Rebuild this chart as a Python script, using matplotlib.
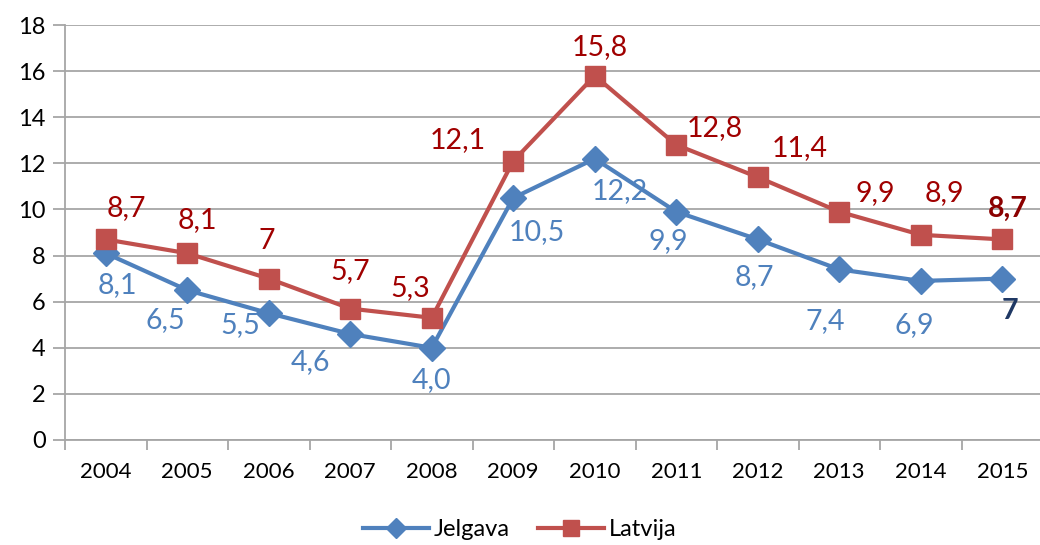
import matplotlib
matplotlib.use('Agg')
import matplotlib.pyplot as plt
from matplotlib.ticker import MultipleLocator, FixedLocator, NullFormatter

plt.rcParams['font.family'] = ['Lato', 'DejaVu Sans']

years = ['2004', '2005', '2006', '2007', '2008', '2009', '2010', '2011', '2012', '2013', '2014', '2015']
jelgava = [8.1, 6.5, 5.5, 4.6, 4.0, 10.5, 12.2, 9.9, 8.7, 7.4, 6.9, 7.0]
latvija = [8.7, 8.1, 7.0, 5.7, 5.3, 12.1, 15.8, 12.8, 11.4, 9.9, 8.9, 8.7]
jelgava_labels = ['8,1', '6,5', '5,5', '4,6', '4,0', '10,5', '12,2', '9,9', '8,7', '7,4', '6,9', '7']
latvija_labels = ['8,7', '8,1', '7', '5,7', '5,3', '12,1', '15,8', '12,8', '11,4', '9,9', '8,9', '8,7']

# label placement (pixels from the point)
lat_off = [(21, 31), (10, 33), (-2, 38), (0, 38), (-22, 30), (-55, 21),
           (5, 29), (39, 17), (42, 29), (36, 19), (24, 42), (6, 31)]
jel_off = [(12, -32), (-22, -30), (-29, -12), (-40, -28), (0, -32), (24, -34),
           (25, -32), (-8, -29), (-3, -38), (-14, -52), (-6, -44), (8, -32)]

blue = '#4F81BD'
red = '#C0504D'
grid_c = '#A6A6A6'

fig = plt.figure(figsize=(10.4, 5.45), dpi=100)
ax = fig.add_axes([65 / 1040, 105 / 545, 978 / 1040, 415 / 545])

x = list(range(len(years)))
ax.plot(x, jelgava, color=blue, lw=3, marker='D', ms=13, label='Jelgava', zorder=3)
ax.plot(x, latvija, color=red, lw=3, marker='s', ms=15, label='Latvija', zorder=4)

for i in x:
    last = i == len(x) - 1
    ax.annotate(latvija_labels[i], (i, latvija[i]), xytext=lat_off[i], textcoords='offset pixels',
                ha='center', va='center', fontsize=20.5,
                color='#A00000' if not last else '#8B0000',
                fontweight='bold' if last else 'normal')
    ax.annotate(jelgava_labels[i], (i, jelgava[i]), xytext=jel_off[i], textcoords='offset pixels',
                ha='center', va='center', fontsize=20.5,
                color=blue if not last else '#1F3864',
                fontweight='bold' if last else 'normal')

ax.set_xlim(-0.5, 11.5)
ax.set_ylim(0, 18)
ax.yaxis.set_major_locator(MultipleLocator(2))
ax.yaxis.grid(True, color=grid_c, lw=1.3)
ax.set_axisbelow(True)

ax.set_xticks(x)
ax.set_xticklabels(years, fontsize=16)
ax.tick_params(axis='x', which='major', length=0, pad=16)
ax.xaxis.set_minor_locator(FixedLocator([i - 0.5 for i in range(len(years) + 1)]))
ax.xaxis.set_minor_formatter(NullFormatter())
ax.tick_params(axis='x', which='minor', length=7, color=grid_c, width=1.3)
ax.tick_params(axis='y', labelsize=17, length=9, color=grid_c, width=1.3, pad=5)

for s in ['top', 'right']:
    ax.spines[s].set_visible(False)
for s in ['left', 'bottom']:
    ax.spines[s].set_color(grid_c)
    ax.spines[s].set_linewidth(1.3)

fig.legend(loc='lower center', bbox_to_anchor=(0.5, -0.03), ncol=2, frameon=False,
           fontsize=17, handlelength=2.8, columnspacing=1.2, handletextpad=0.2, markerscale=0.75)

plt.savefig('out.png', dpi=100)
